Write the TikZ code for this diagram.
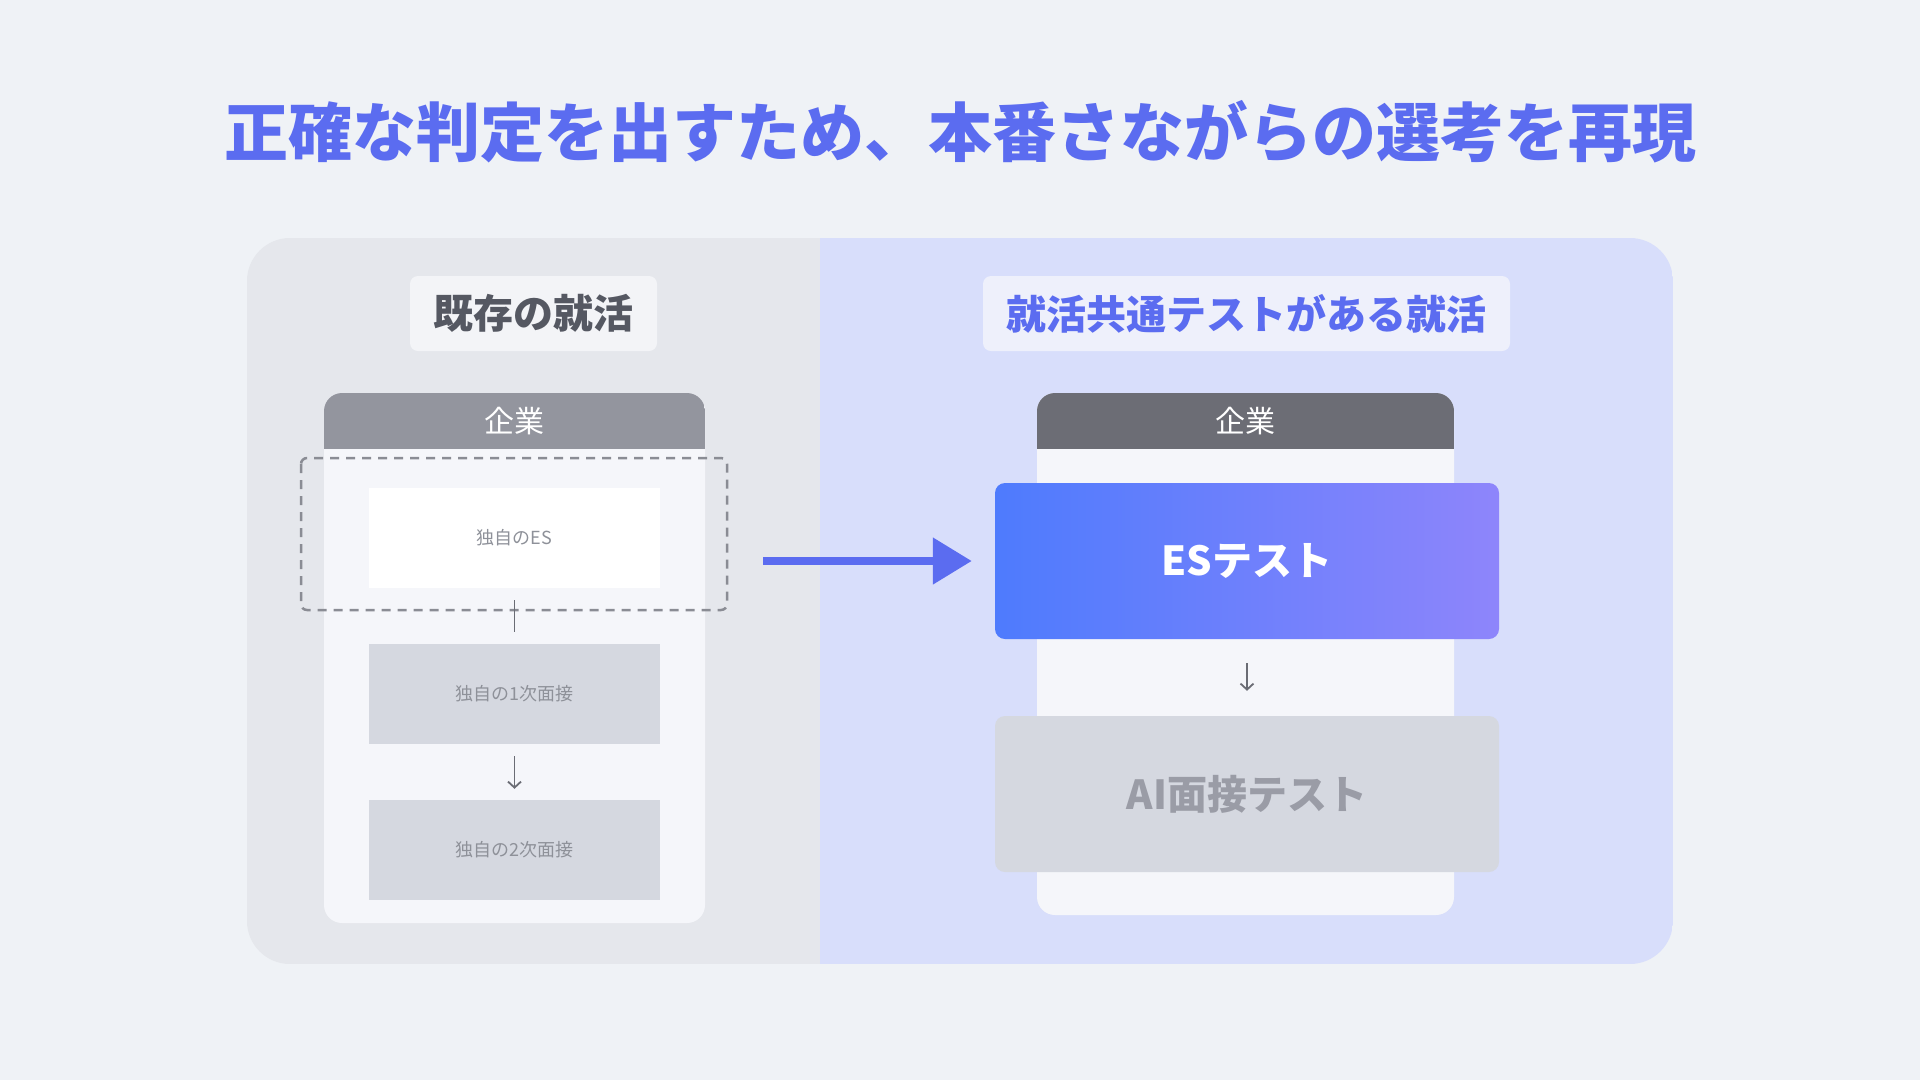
\documentclass[tikz,border=0pt]{standalone}
\usepackage{fontspec}
\setmainfont{Noto Sans CJK JP}
\usetikzlibrary{arrows.meta,calc,positioning}

\definecolor{bgcol}{HTML}{EFF2F6}
\definecolor{panelgray}{HTML}{E5E7EC}
\definecolor{panelblue}{HTML}{D8DEFB}
\definecolor{titleblue}{HTML}{5B6CF0}
\definecolor{headfillL}{HTML}{F3F4F7}
\definecolor{headfillR}{HTML}{EEF0FB}
\definecolor{headtxtL}{HTML}{555862}
\definecolor{cardbody}{HTML}{F5F6FA}
\definecolor{hdrL}{HTML}{93959E}
\definecolor{hdrR}{HTML}{6C6D75}
\definecolor{boxgray}{HTML}{D5D8E0}
\definecolor{smalltxt}{HTML}{8E9199}
\definecolor{dashcol}{HTML}{8A8C94}
\definecolor{arrowcol}{HTML}{6A6C74}
\definecolor{esL}{HTML}{4E7BFD}
\definecolor{esR}{HTML}{8E85FB}
\definecolor{aitxt}{HTML}{9A9CA6}

\tikzset{
  headbox/.style={rectangle,rounded corners=8pt,inner sep=0pt,minimum height=75pt,font=\fontsize{40}{40}\selectfont\bfseries},
  hdrtxt/.style={text=white,font=\fontsize{30}{30}\selectfont},
  stepbox/.style={rectangle,inner sep=0pt,minimum width=291pt,minimum height=100pt,font=\fontsize{18}{18}\selectfont,text=smalltxt},
  bigbox/.style={rectangle,rounded corners=10pt,inner sep=0pt,minimum width=504pt,minimum height=156pt,font=\fontsize{40}{40}\selectfont\bfseries},
  thinline/.style={draw=arrowcol,line width=1.8pt},
  downtip/.style={-{Straight Barb[length=6pt,width=13pt,line width=1.8pt]}},
}

\begin{document}
\begin{tikzpicture}[x=1pt,y=-1pt]
\fill[bgcol] (0,0) rectangle (1920,1080);
\useasboundingbox (0,0) rectangle (1920,1080);

% title
\node[text=titleblue,font=\fontsize{64}{64}\selectfont\bfseries] (title) at (960,132) {正確な判定を出すため、本番さながらの選考を再現};

% panel
\begin{scope}
\clip[rounded corners=43pt] (247,238) rectangle (1673,964);
\fill[panelgray] (247,238) rectangle (820,964);
\fill[panelblue] (820,238) rectangle (1673,964);
\end{scope}

% headings
\node[headbox,fill=headfillL,text=headtxtL,minimum width=247pt] (headL) at (533.5,313.5) {既存の就活};
\node[headbox,fill=headfillR,text=titleblue,minimum width=527pt] (headR) at (1246.5,313.5) {就活共通テストがある就活};

% left card
\fill[cardbody,rounded corners=18pt] (324,393) rectangle (705,923);
\begin{scope}
\clip[rounded corners=18pt] (324,393) rectangle (705,923);
\fill[hdrL] (324,393) rectangle (705,449);
\end{scope}
\node[hdrtxt] (entL) at (514.5,421) {企業};

\foreach \n/\y/\c/\t in {1/538/white/独自のES,2/694/boxgray/独自の1次面接,3/850/boxgray/独自の2次面接}
  \node[stepbox,fill=\c] (s\n) at (514.5,\y) {\t};

\draw[dashcol,line width=2.5pt,dash pattern=on 9pt off 7pt,rounded corners=6pt] (301,458) rectangle (727,610);

\draw[thinline] ($(s1.south)+(0,12)$) -- ($(s2.north)+(0,-12)$);
\draw[thinline,downtip] ($(s2.south)+(0,12)$) -- ($(s3.north)+(0,-11)$);

% right card
\fill[cardbody,rounded corners=18pt] (1037,393) rectangle (1454,915);
\begin{scope}
\clip[rounded corners=18pt] (1037,393) rectangle (1454,915);
\fill[hdrR] (1037,393) rectangle (1454,449);
\end{scope}
\node[hdrtxt] (entR) at (1245.5,421) {企業};

\node[bigbox,left color=esL,right color=esR,text=white] (es) at (1247,561) {ESテスト};
\node[bigbox,fill=boxgray,text=aitxt] (ai) at (1247,794) {AI面接テスト};

\draw[thinline,downtip] ($(es.south)+(0,24)$) -- ($(ai.north)+(0,-25)$);

% big arrow
\coordinate (arrowstart) at (763,561);
\draw[titleblue,line width=8pt,-{Triangle[length=39pt,width=45pt]}] (arrowstart) -- ($(es.west)+(-23,0)$);
\end{tikzpicture}
\end{document}
